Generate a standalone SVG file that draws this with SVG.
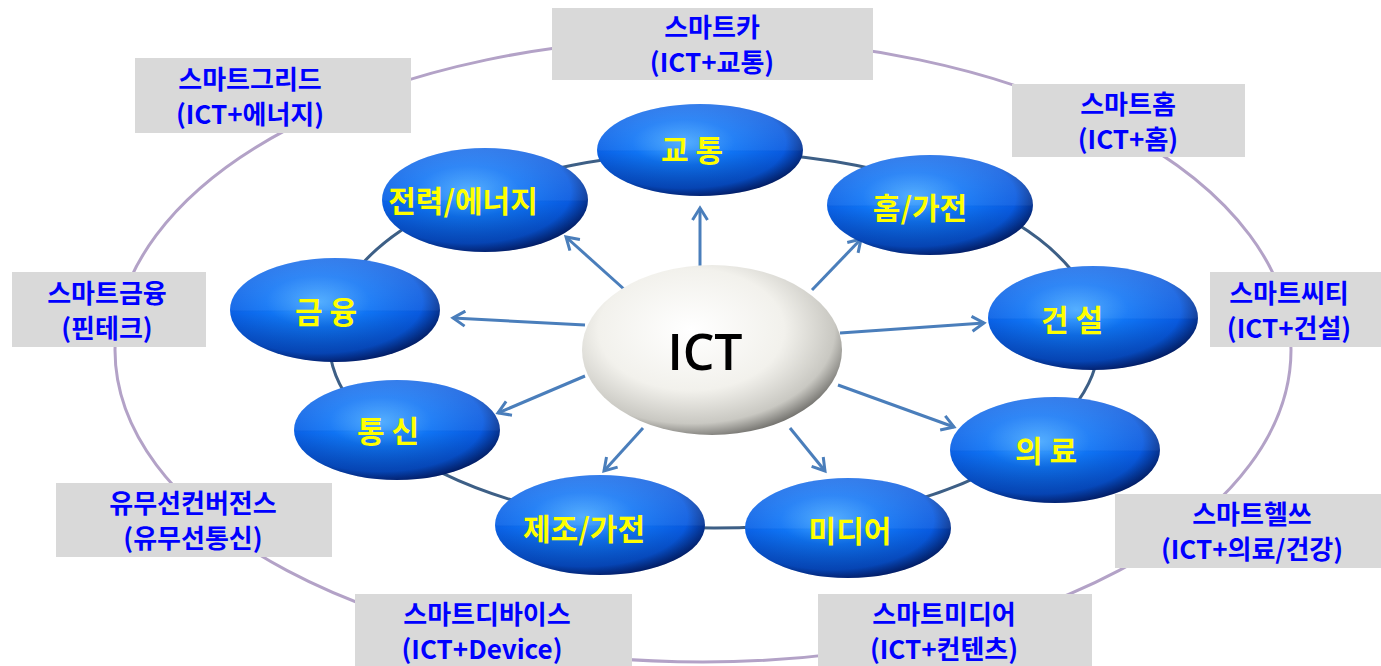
<svg xmlns="http://www.w3.org/2000/svg" width="1381" height="666" viewBox="0 0 1381 666">
<defs>
<radialGradient id="blue" cx="0.42" cy="0.42" r="0.62">
<stop offset="0" stop-color="#46a8ff"/>
<stop offset="0.4" stop-color="#0f74f5"/>
<stop offset="0.8" stop-color="#085ae0"/>
<stop offset="1" stop-color="#032270"/>
</radialGradient>
<linearGradient id="shine" x1="0" y1="0" x2="0" y2="1">
<stop offset="0" stop-color="#ffffff" stop-opacity="0.18"/>
<stop offset="0.5" stop-color="#ffffff" stop-opacity="0.06"/>
<stop offset="0.52" stop-color="#000000" stop-opacity="0"/>
<stop offset="1" stop-color="#000030" stop-opacity="0.3"/>
</linearGradient>
<radialGradient id="white" cx="0.42" cy="0.38" r="0.65">
<stop offset="0" stop-color="#ffffff"/>
<stop offset="0.55" stop-color="#f2f1ec"/>
<stop offset="0.85" stop-color="#c9c8c2"/>
<stop offset="1" stop-color="#6e6d69"/>
</radialGradient>
<marker id="arr" viewBox="0 0 12 12" refX="10" refY="6" markerWidth="6" markerHeight="6" orient="auto" markerUnits="strokeWidth">
<path d="M2,1 L10,6 L2,11" fill="none" stroke="#4a7ebb" stroke-width="2"/>
</marker>
<style>
.lbl{fill:#d9d9d9}
.lt{font-family:"Noto Sans CJK KR","Noto Sans",sans-serif;font-weight:bold;font-size:26px;fill:#0000ff;text-anchor:middle}
.nt{font-family:"Noto Sans CJK KR","Noto Sans",sans-serif;font-weight:bold;font-size:30px;fill:#ffff00;text-anchor:middle}
.ar{stroke:#4a7ebb;stroke-width:3;fill:none;marker-end:url(#arr)}
</style>
</defs>
<rect width="1381" height="666" fill="#ffffff"/>
<ellipse cx="703" cy="350" rx="588" ry="312" fill="none" stroke="#b3a2c7" stroke-width="3"/>
<ellipse cx="714" cy="340" rx="385" ry="188" fill="none" stroke="#3d5f86" stroke-width="3"/>
<g id="connectors">
<line class="ar" x1="700" y1="268" x2="700" y2="208"/>
<line class="ar" x1="812" y1="290" x2="861" y2="239"/>
<line class="ar" x1="840" y1="333" x2="984" y2="323"/>
<line class="ar" x1="838" y1="385" x2="954" y2="427"/>
<line class="ar" x1="790" y1="428" x2="825" y2="471"/>
<line class="ar" x1="643" y1="428" x2="604" y2="471"/>
<line class="ar" x1="585" y1="376" x2="498" y2="413"/>
<line class="ar" x1="585" y1="325" x2="453" y2="318"/>
<line class="ar" x1="625" y1="290" x2="566" y2="237"/>
</g>
<g id="labels">
<g id="lbl-car"><rect class="lbl" x="552" y="8" width="321" height="72"/><text class="lt" x="712" y="37">스마트카</text><text class="lt" x="712" y="72">(ICT+교통)</text></g>
<g id="lbl-grid"><rect class="lbl" x="135" y="58" width="276" height="75"/><text class="lt" x="250" y="89">스마트그리드</text><text class="lt" x="250" y="124">(ICT+에너지)</text></g>
<g id="lbl-home"><rect class="lbl" x="1012" y="84" width="233" height="73"/><text class="lt" x="1128" y="114">스마트홈</text><text class="lt" x="1128" y="149">(ICT+홈)</text></g>
<g id="lbl-city"><rect class="lbl" x="1210" y="272" width="171" height="75"/><text class="lt" x="1289" y="303">스마트씨티</text><text class="lt" x="1289" y="338">(ICT+건설)</text></g>
<g id="lbl-fin"><rect class="lbl" x="12" y="272" width="194" height="75"/><text class="lt" x="107" y="303">스마트금융</text><text class="lt" x="107" y="338">(핀테크)</text></g>
<g id="lbl-conv"><rect class="lbl" x="56" y="483" width="276" height="74"/><text class="lt" x="193" y="513">유무선컨버전스</text><text class="lt" x="193" y="548">(유무선통신)</text></g>
<g id="lbl-health"><rect class="lbl" x="1115" y="494" width="266" height="74"/><text class="lt" x="1252" y="524">스마트헬쓰</text><text class="lt" x="1252" y="559">(ICT+의료/건강)</text></g>
<g id="lbl-device"><rect class="lbl" x="355" y="594" width="277" height="72"/><text class="lt" x="487" y="624">스마트디바이스</text><text class="lt" x="482" y="659">(ICT+Device)</text></g>
<g id="lbl-media"><rect class="lbl" x="818" y="594" width="274" height="72"/><text class="lt" x="944" y="624">스마트미디어</text><text class="lt" x="944" y="659">(ICT+컨텐츠)</text></g>
</g>
<g id="node-traffic"><ellipse cx="700" cy="150" rx="103" ry="46" fill="url(#blue)"/><ellipse cx="700" cy="150" rx="103" ry="46" fill="url(#shine)"/><text class="nt" x="692" y="161">교 통</text></g>
<g id="node-home"><ellipse cx="930" cy="205" rx="103" ry="50" fill="url(#blue)"/><ellipse cx="930" cy="205" rx="103" ry="50" fill="url(#shine)"/><text class="nt" x="920" y="219">홈/가전</text></g>
<g id="node-build"><ellipse cx="1093" cy="318" rx="105" ry="52" fill="url(#blue)"/><ellipse cx="1093" cy="318" rx="105" ry="52" fill="url(#shine)"/><text class="nt" x="1072" y="331">건 설</text></g>
<g id="node-med"><ellipse cx="1055" cy="450" rx="105" ry="53" fill="url(#blue)"/><ellipse cx="1055" cy="450" rx="105" ry="53" fill="url(#shine)"/><text class="nt" x="1046" y="462">의 료</text></g>
<g id="node-media"><ellipse cx="848" cy="528" rx="103" ry="50" fill="url(#blue)"/><ellipse cx="848" cy="528" rx="103" ry="50" fill="url(#shine)"/><text class="nt" x="850" y="542">미디어</text></g>
<g id="node-mfg"><ellipse cx="600" cy="525" rx="105" ry="50" fill="url(#blue)"/><ellipse cx="600" cy="525" rx="105" ry="50" fill="url(#shine)"/><text class="nt" x="584" y="540">제조/가전</text></g>
<g id="node-comm"><ellipse cx="397" cy="430" rx="103" ry="50" fill="url(#blue)"/><ellipse cx="397" cy="430" rx="103" ry="50" fill="url(#shine)"/><text class="nt" x="388" y="442">통 신</text></g>
<g id="node-fin"><ellipse cx="335" cy="310" rx="105" ry="52" fill="url(#blue)"/><ellipse cx="335" cy="310" rx="105" ry="52" fill="url(#shine)"/><text class="nt" x="326" y="323">금 융</text></g>
<g id="node-energy"><ellipse cx="485" cy="200" rx="103" ry="52" fill="url(#blue)"/><ellipse cx="485" cy="200" rx="103" ry="52" fill="url(#shine)"/><text class="nt" x="463" y="212">전력/에너지</text></g>
<g id="node-ict"><ellipse cx="712" cy="350" rx="130" ry="85" fill="url(#white)"/><text x="705" y="370" font-family="'Open Sans','Noto Sans',sans-serif" font-weight="600" font-size="50" fill="#000000" text-anchor="middle">ICT</text></g>
</svg>
